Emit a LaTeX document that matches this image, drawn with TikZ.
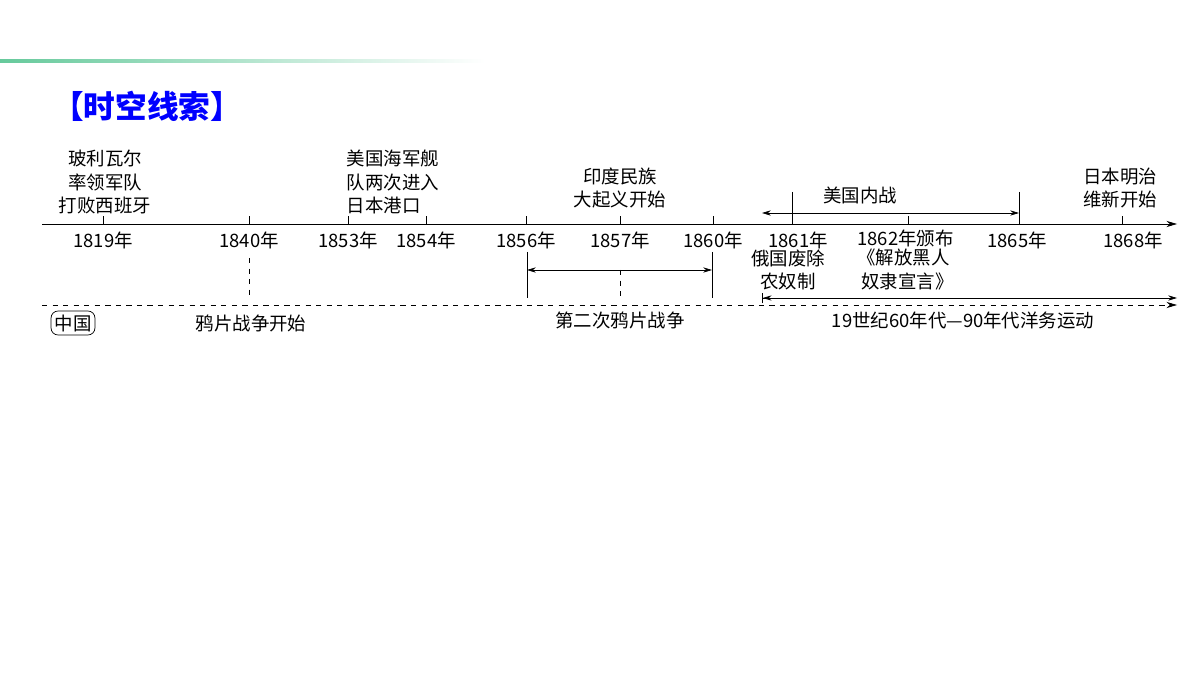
\documentclass[tikz,border=0pt]{standalone}
\usepackage{fontspec}
\setmainfont{Noto Sans CJK SC}
\usetikzlibrary{arrows.meta}
\tikzset{
  lbl/.style={font=\fontsize{10.5pt}{13.5pt}\selectfont,inner sep=0pt,align=center},
  yr/.style={lbl,below=3pt},
  tk/.style={line width=0.45pt},
  arr/.style={line width=0.45pt,{Stealth[length=5pt,width=3pt]}-{Stealth[length=5pt,width=3pt]}}
}
\begin{document}
\begin{tikzpicture}[x=0.02cm,y=-0.02cm]
\useasboundingbox (0,0) rectangle (1200,675);
\shade[left color=teal!70!green!60,right color=white] (0,59.5) rectangle (485,62.5);
\node[font=\fontsize{18pt}{21pt}\bfseries\selectfont,text=blue,anchor=west] (title) at (46,106) {【时空线索】};

% axis
\coordinate (a0) at (42,224);
\coordinate (a1) at (1177,224);
\draw[tk,-{Stealth[length=6pt,width=3.5pt]}] (a0) -- (a1);
\foreach \x/\y in {103/1819,249/1840,348/1853,426/1854,526/1856,620/1857,713/1860,908/1862,1122/1868}{
  \draw[tk] (\x,224) -- (\x,216);
}
\foreach \x/\y in {103/1819,249/1840,348/1853,426/1854,526/1856,620/1857,713/1860,798/1861,1017/1865,1133/1868}{
  \node[yr] (y\y) at (\x,226) {\y 年};
}
\node[lbl,anchor=west] (y1862) at (857,238) {1862年颁布};
\draw[tk] (792,192) -- (792,224);
\draw[tk] (1019,192) -- (1019,224);

% events above
\node[lbl] (bol) at (105,182) {玻利瓦尔\\率领军队\\打败西班牙};
\node[lbl,align=left] (usn) at (393,182) {美国海军舰\\队两次进入\\日本港口};
\node[lbl] (ind) at (620,188) {印度民族\\大起义开始};
\node[lbl] (mei) at (1120,188) {日本明治\\维新开始};
\node[lbl] (cw) at (860,195) {美国内战};
\coordinate (cw0) at (762,213);
\coordinate (cw1) at (1019,213);
\draw[arr] (cw0) -- (cw1);

% events below
\node[lbl] (rus) at (788,270) {俄国废除\\农奴制};
\node[lbl,align=left,anchor=north west] (eman) at (857,249) {《解放黑人\\\ 奴隶宣言》};

% second opium war
\coordinate (ow0) at (527,252);
\coordinate (ow1) at (712,252);
\draw[tk] (ow0) -- ++(0,46);
\draw[tk] (ow1) -- ++(0,46);
\draw[arr] (527,270) -- (712,270);
\draw[tk,dashed] (620,270) -- (620,298);
\draw[tk,dashed] (249,258) -- (249,298);

% china line
\coordinate (c0) at (42,305);
\coordinate (c1) at (1177,305);
\draw[tk,dashed,-{Stealth[length=6pt,width=3.5pt]}] (c0) -- (c1);
\coordinate (yw0) at (762,298);
\coordinate (yw1) at (1177,298);
\draw[tk,{Bar[width=6pt]Stealth[length=5pt,width=3pt]}-{Stealth[length=5pt,width=3pt]}] (yw0) -- (yw1);
\node[lbl,draw,rounded corners=4pt,inner sep=2pt] (cn) at (73,323) {中国};
\node[lbl] (op1) at (251,323) {鸦片战争开始};
\node[lbl] (op2) at (620,320) {第二次鸦片战争};
\node[lbl] (yw) at (963,320) {19世纪60年代—90年代洋务运动};
\end{tikzpicture}
\end{document}
